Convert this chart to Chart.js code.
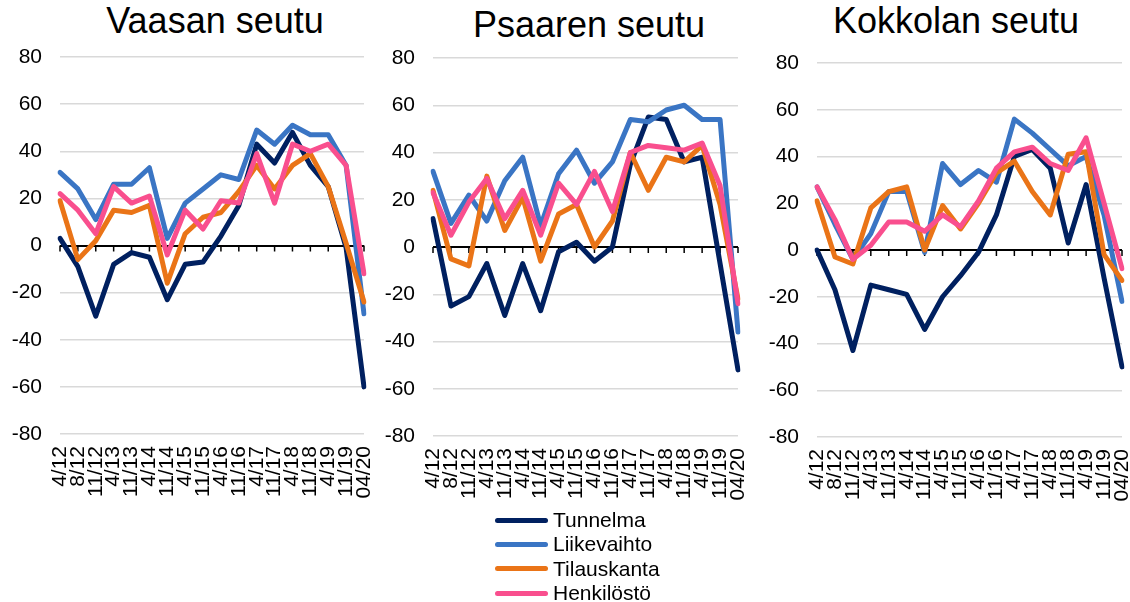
<!DOCTYPE html>
<html>
<head>
<meta charset="utf-8">
<script src="https://cdn.jsdelivr.net/npm/chart.js@4/dist/chart.umd.min.js"></script>
<style>
  html, body { margin: 0; padding: 0; background: #fff; overflow: hidden; }
  #wrap { position: relative; width: 1130px; height: 602px; overflow: hidden; font-family: "Liberation Sans", Arial, sans-serif; }
  canvas { position: absolute; top: 0; }
  .title { position: absolute; width: 400px; text-align: center; font-size: 36px; line-height: 36px; color: #000; }
  .legend { position: absolute; left: 495px; top: 508px; }
  .row { display: flex; align-items: center; height: 24.3px; }
  .swatch { width: 53px; height: 5px; border-radius: 3px; margin-right: 5px; }
  .row span { font-size: 21px; line-height: 24px; color: #000; }
</style>
</head>
<body>
<div id="wrap">
  <div class="title" style="left:15px; top:3px;">Vaasan seutu</div>
  <div class="title" style="left:389px; top:7px;">Psaaren seutu</div>
  <div class="title" style="left:756px; top:3px;">Kokkolan seutu</div>
  <canvas id="c1" width="380" height="520" style="left:0px"></canvas>
  <canvas id="c2" width="381" height="520" style="left:373px"></canvas>
  <canvas id="c3" width="381" height="520" style="left:757px"></canvas>
  <div class="legend" id="legend"></div>
</div>
<script>
var labels = ["4/12", "8/12", "11/12", "4/13", "11/13", "4/14", "11/14", "4/15", "11/15",
              "4/16", "11/16", "4/17", "11/17", "4/18", "11/18", "4/19", "11/19", "04/20"];
var seriesNames = ["Tunnelma", "Liikevaihto", "Tilauskanta", "Henkilöstö"];
var colors = ["#002060", "#3A75C4", "#EA7417", "#F94F8E"];

// Vaasan seutu
var vaasaTunnelma    = [3, -9, -30, -8, -3, -5, -23, -8, -7, 4, 17, 43, 35, 48, 34, 25, -1, -60];
var vaasaLiikevaihto = [31, 24, 11, 26, 26, 33, 3, 18, 24, 30, 28, 49, 43, 51, 47, 47, 34, -29];
var vaasaTilauskanta = [19, -6, 2, 15, 14, 17, -16, 5, 12, 14, 23, 34, 24, 34, 39, 25, 1, -24];
var vaasaHenkilosto  = [22, 15, 5, 25, 18, 21, -4, 15, 7, 19, 18, 39, 18, 43, 40, 43, 34, -12];

// Psaaren seutu
var psaariTunnelma    = [12, -25, -21, -7, -29, -7, -27, -2, 2, -6, 0, 35, 55, 54, 36, 38, -7, -52];
var psaariLiikevaihto = [32, 10, 22, 11, 28, 38, 9, 31, 41, 27, 36, 54, 53, 58, 60, 54, 54, -36];
var psaariTilauskanta = [24, -5, -8, 30, 7, 21, -6, 14, 18, 0, 11, 40, 24, 38, 36, 43, 18, -22];
var psaariHenkilosto  = [23, 5, 19, 29, 12, 24, 5, 27, 18, 32, 15, 40, 43, 42, 41, 44, 26, -24];

// Kokkolan seutu
var kokkolaTunnelma    = [0, -17, -43, -15, -17, -19, -34, -20, -11, -1, 15, 40, 43, 35, 3, 28, -12, -50];
var kokkolaLiikevaihto = [27, 11, -4, 7, 25, 25, -1, 37, 28, 34, 29, 56, 50, 43, 36, 40, 15, -22];
var kokkolaTilauskanta = [21, -3, -6, 18, 25, 27, 0, 19, 9, 20, 33, 38, 25, 15, 41, 42, -2, -13];
var kokkolaHenkilosto  = [27, 13, -4, 2, 12, 12, 8, 15, 10, 21, 35, 42, 44, 37, 34, 48, 20, -8];

var font = { family: "'Liberation Sans', Arial, sans-serif", size: 21 };

// small tick marks hanging off the zero line
var zeroTicks = {
  id: 'zeroTicks',
  beforeDatasetsDraw(chart) {
    var ctx = chart.ctx, xs = chart.scales.x, ys = chart.scales.y;
    var y0 = ys.getPixelForValue(0);
    ctx.save();
    ctx.strokeStyle = '#000';
    ctx.lineWidth = 1.5;
    for (var i = 0; i < labels.length; i++) {
      var x = xs.getPixelForValue(i);
      ctx.beginPath();
      ctx.moveTo(x, y0);
      ctx.lineTo(x, y0 + 6);
      ctx.stroke();
    }
    ctx.restore();
  }
};

function makeChart(id, data, top, bottom) {
  new Chart(id, {
    type: 'line',
    data: {
      labels: labels,
      datasets: data.map(function (d, i) {
        return { label: seriesNames[i], data: d, borderColor: colors[i], backgroundColor: colors[i], order: 4 - i };
      })
    },
    options: {
      responsive: false,
      animation: false,
      layout: { padding: { top: top, right: 16, left: 0, bottom: 0 } },
      plugins: { legend: { display: false }, tooltip: { enabled: false } },
      elements: {
        point: { radius: 0 },
        line: { tension: 0, borderWidth: 5, borderJoinStyle: 'round', borderCapStyle: 'round' }
      },
      scales: {
        x: {
          offset: false,
          grid: { display: false, drawTicks: false },
          border: { display: false },
          ticks: { autoSkip: false, maxRotation: 90, minRotation: 90, padding: 12, color: '#000', font: font },
          afterFit: function (s) {
            s.height = 520 - bottom;
            s.paddingLeft = 0;
            s.paddingRight = 0;
          }
        },
        y: {
          min: -80, max: 80,
          ticks: { stepSize: 20, padding: 18, color: '#000', font: font },
          grid: {
            drawTicks: false,
            color: function (c) { return c.tick.value === 0 ? '#000' : '#d9d9d9'; },
            lineWidth: function (c) { return c.tick.value === 0 ? 2 : 1.5; }
          },
          border: { display: false },
          afterFit: function (s) { s.width = 60; }
        }
      }
    },
    plugins: [zeroTicks]
  });
}

makeChart('c1', [vaasaTunnelma, vaasaLiikevaihto, vaasaTilauskanta, vaasaHenkilosto], 57, 434);
makeChart('c2', [psaariTunnelma, psaariLiikevaihto, psaariTilauskanta, psaariHenkilosto], 58, 436);
makeChart('c3', [kokkolaTunnelma, kokkolaLiikevaihto, kokkolaTilauskanta, kokkolaHenkilosto], 63, 437);

var legend = document.getElementById('legend');
seriesNames.forEach(function (n, i) {
  var row = document.createElement('div');
  row.className = 'row';
  row.innerHTML = '<div class="swatch" style="background:' + colors[i] + '"></div><span>' + n + '</span>';
  legend.appendChild(row);
});
</script>
</body>
</html>
